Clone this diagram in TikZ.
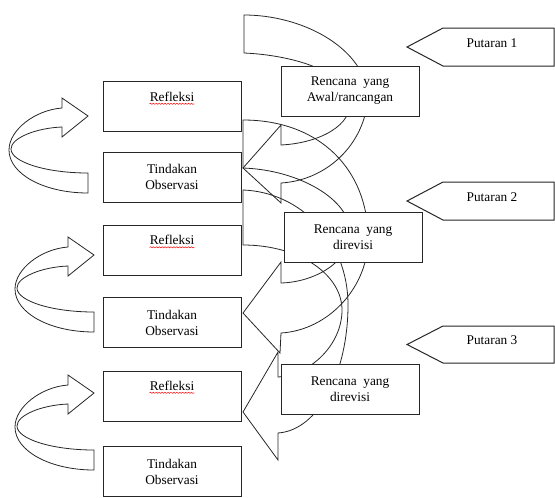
\documentclass[tikz,border=0pt]{standalone}
\usepackage{fontspec}
\setmainfont{Liberation Serif}
\usetikzlibrary{calc,decorations.pathmorphing}
\begin{document}
\begin{tikzpicture}[x=0.75pt,y=-0.75pt,
  arr/.style={draw=black!85, line width=0.6pt, line join=miter},
  box/.style={draw=black!85, line width=0.75pt, fill=white, minimum width=103.5pt,
    minimum height=37.5pt, inner sep=0pt, align=center, font=\fontsize{10}{12}\selectfont},
  lbl/.style={inner sep=0pt, font=\fontsize{10}{12}\selectfont},
  tag/.style={draw=black!85, line width=0.75pt, fill=white},
  spell/.style={draw=red, line width=0.35pt, decorate,
    decoration={snake, amplitude=0.45pt, segment length=2.2pt}},
  curvR/.pic={
    \draw[arr] (88,173) -- (88,193) .. controls (44,193) and (9,174) .. (9,150)
      .. controls (9,130) and (35,110) .. (62,108) -- (62,98) -- (88,116) -- (62,137) -- (62,127)
      .. controls (36,128) and (11,138) .. (11,149) .. controls (11,162) and (46,173) .. (88,173) -- cycle;
  }]
\useasboundingbox (0,0) rectangle (555,497);

% left curved arrows
\pic at (0,0) {curvR};
\pic at (6,139) {curvR};
\pic at (6,277) {curvR};

% right curved arrows
\draw[arr] (244,53) -- (244,15) .. controls (300,15) and (360,45) .. (368,92)
  .. controls (368,140) and (330,180) .. (281,183) -- (281,203) -- (243,168) -- (281,125) -- (281,145)
  .. controls (320,143) and (353,125) .. (350,100) .. controls (345,70) and (290,55) .. (244,53) -- cycle;
\draw[arr] (243,168) -- (243,120) .. controls (320,120) and (368,170) .. (368,238)
  .. controls (369,285) and (330,330) .. (281,333) -- (280,353) -- (243,313) -- (281,262) -- (281,283)
  .. controls (315,282) and (350,262) .. (350,232) .. controls (350,200) and (300,170) .. (243,168) -- cycle;
\draw[arr] (243,245) -- (243,190) .. controls (300,192) and (348,240) .. (348,305)
  .. controls (348,370) and (320,430) .. (278,433) -- (278,460) -- (243,412) -- (278,352) -- (278,377)
  .. controls (310,375) and (342,345) .. (342,310) .. controls (342,275) and (300,245) .. (243,245) -- cycle;

% left column boxes
\node[box] (ref1) at (172,106) {};
\node[lbl, anchor=base] (rt1) at (172,101) {Refleksi};
\node[box] (tin1) at (172,177) {Tindakan\\Observasi};
\node[box] (ref2) at (172,250) {};
\node[lbl, anchor=base] (rt2) at (172,244.5) {Refleksi};
\node[box] (tin2) at (172,322.5) {Tindakan\\Observasi};
\node[box] (ref3) at (172,396) {};
\node[lbl, anchor=base] (rt3) at (172,390) {Refleksi};
\node[box] (tin3) at (172,471.5) {Tindakan\\Observasi};

\foreach \t in {rt1,rt2,rt3}{
  \draw[spell] ($(\t.base west)+(0,2.8)$) -- ($(\t.base east)+(0,2.8)$);
}

% right column boxes
\node[box] (ren1) at (350,91) {Rencana\ \ yang\\Awal/rancangan};
\node[box] (ren2) at (353,237.5) {Rencana\ \ yang\\direvisi};
\node[box] (ren3) at (350,389) {Rencana\ \ yang\\direvisi};

% Putaran tags
\draw[tag] (407,47) -- (443,28) -- (554,28) -- (554,66) -- (443,66) -- cycle;
\node[lbl] (p1) at (492,43.5) {Putaran 1};
\draw[tag] (407,201) -- (443,182) -- (554,182) -- (554,220) -- (443,220) -- cycle;
\node[lbl] (p2) at (492,197) {Putaran 2};
\draw[tag] (407,344.5) -- (443,326) -- (554,326) -- (554,363) -- (443,363) -- cycle;
\node[lbl] (p3) at (492,340.5) {Putaran 3};
\end{tikzpicture}
\end{document}
